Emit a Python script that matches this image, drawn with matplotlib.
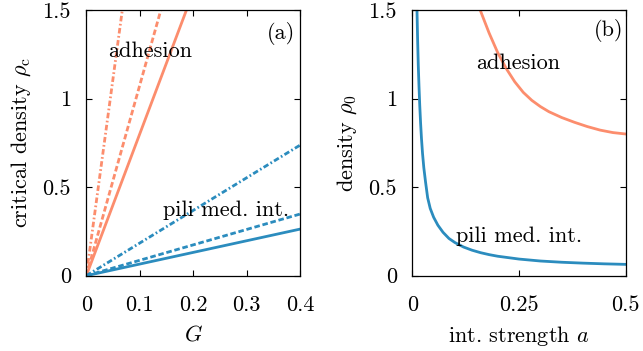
import matplotlib
matplotlib.use('Agg')
import matplotlib.pyplot as plt

plt.rcParams['font.family'] = 'serif'
plt.rcParams['font.serif'] = ['cmr10']
plt.rcParams['mathtext.fontset'] = 'cm'
plt.rcParams['axes.formatter.use_mathtext'] = True
plt.rcParams['font.size'] = 16

# panel (a): critical density vs G, read at the ends of the straight lines
G = [0.0, 0.4]
adh_solid = [0.0, 3.20]
adh_dash = [0.0, 4.30]
adh_dashdot = [0.0, 8.90]
pili_solid = [0.0, 0.263]
pili_dash = [0.0, 0.348]
pili_dashdot = [0.0, 0.737]

# panel (b): density vs interaction strength
a_pili = [0.011, 0.0125, 0.014, 0.0157, 0.0175, 0.0195, 0.0215, 0.024, 0.027, 0.031,
          0.036, 0.042, 0.05, 0.06, 0.072, 0.086, 0.1, 0.12, 0.14, 0.16,
          0.18, 0.2, 0.25, 0.3, 0.35, 0.4, 0.45, 0.5]
rho_pili = [1.5, 1.33, 1.19, 1.07, 0.96, 0.86, 0.775, 0.69, 0.61, 0.53,
            0.44, 0.38, 0.33, 0.285, 0.245, 0.21, 0.187, 0.162, 0.144, 0.13,
            0.119, 0.11, 0.094, 0.083, 0.076, 0.071, 0.067, 0.064]
a_adh = [0.159, 0.18, 0.20, 0.22, 0.24, 0.26, 0.28, 0.30, 0.32, 0.35,
         0.38, 0.41, 0.44, 0.47, 0.5]
rho_adh = [1.5, 1.37, 1.26, 1.17, 1.095, 1.035, 0.99, 0.955, 0.926, 0.893,
           0.866, 0.842, 0.822, 0.808, 0.80]

salmon = '#fc8d6d'
blue = '#2b8cbe'
dashed = (0, (2.0, 1.0))
dashdot = (0, (2.0, 0.9, 0.6, 0.9))

fig = plt.figure(figsize=(6.43, 3.51), dpi=100)
ax1 = fig.add_axes([0.1342, 0.2145, 0.3324, 0.757])
ax2 = fig.add_axes([0.6412, 0.2145, 0.3319, 0.757])

lw = 2.0
ax1.plot(G, adh_solid, color=salmon, lw=lw)
ax1.plot(G, adh_dash, color=salmon, lw=lw, linestyle=dashed)
ax1.plot(G, adh_dashdot, color=salmon, lw=lw, linestyle=dashdot)
ax1.plot(G, pili_solid, color=blue, lw=lw)
ax1.plot(G, pili_dash, color=blue, lw=lw, linestyle=dashed)
ax1.plot(G, pili_dashdot, color=blue, lw=lw, linestyle=dashdot)
ax1.set_xlim(0, 0.4)
ax1.set_ylim(0, 1.5)
ax1.set_xticks([0, 0.1, 0.2, 0.3, 0.4])
ax1.set_xticklabels(['0', '0.1', '0.2', '0.3', '0.4'])
ax1.set_yticks([0, 0.5, 1, 1.5])
ax1.set_yticklabels(['0', '0.5', '1', '1.5'])
ax1.set_xlabel(r'$G$', labelpad=7)
ax1.set_ylabel(r'critical density $\rho_{\rm c}$', labelpad=7)
ax1.text(0.12, 1.27, 'adhesion', ha='center', va='center')
ax1.text(0.262, 0.37, 'pili med. int.', ha='center', va='center')
ax1.text(0.365, 1.37, '(a)', ha='center', va='center')

ax2.plot(a_adh, rho_adh, color=salmon, lw=lw)
ax2.plot(a_pili, rho_pili, color=blue, lw=lw)
ax2.set_xlim(0, 0.5)
ax2.set_ylim(0, 1.5)
ax2.set_xticks([0, 0.25, 0.5])
ax2.set_xticklabels(['0', '0.25', '0.5'])
ax2.set_yticks([0, 0.5, 1, 1.5])
ax2.set_yticklabels(['0', '0.5', '1', '1.5'])
ax2.set_xlabel(r'int. strength $a$', labelpad=7)
ax2.set_ylabel(r'density $\rho_0$', labelpad=7)
ax2.text(0.249, 1.2, 'adhesion', ha='center', va='center')
ax2.text(0.25, 0.22, 'pili med. int.', ha='center', va='center')
ax2.text(0.459, 1.386, '(b)', ha='center', va='center')

for ax in (ax1, ax2):
    ax.tick_params(direction='in', top=True, right=True, length=4, width=0.8)
    ax.tick_params(axis='x', pad=14)
    ax.tick_params(axis='y', pad=11)
    for s in ax.spines.values():
        s.set_linewidth(0.9)

fig.savefig('out.png', dpi=100)
